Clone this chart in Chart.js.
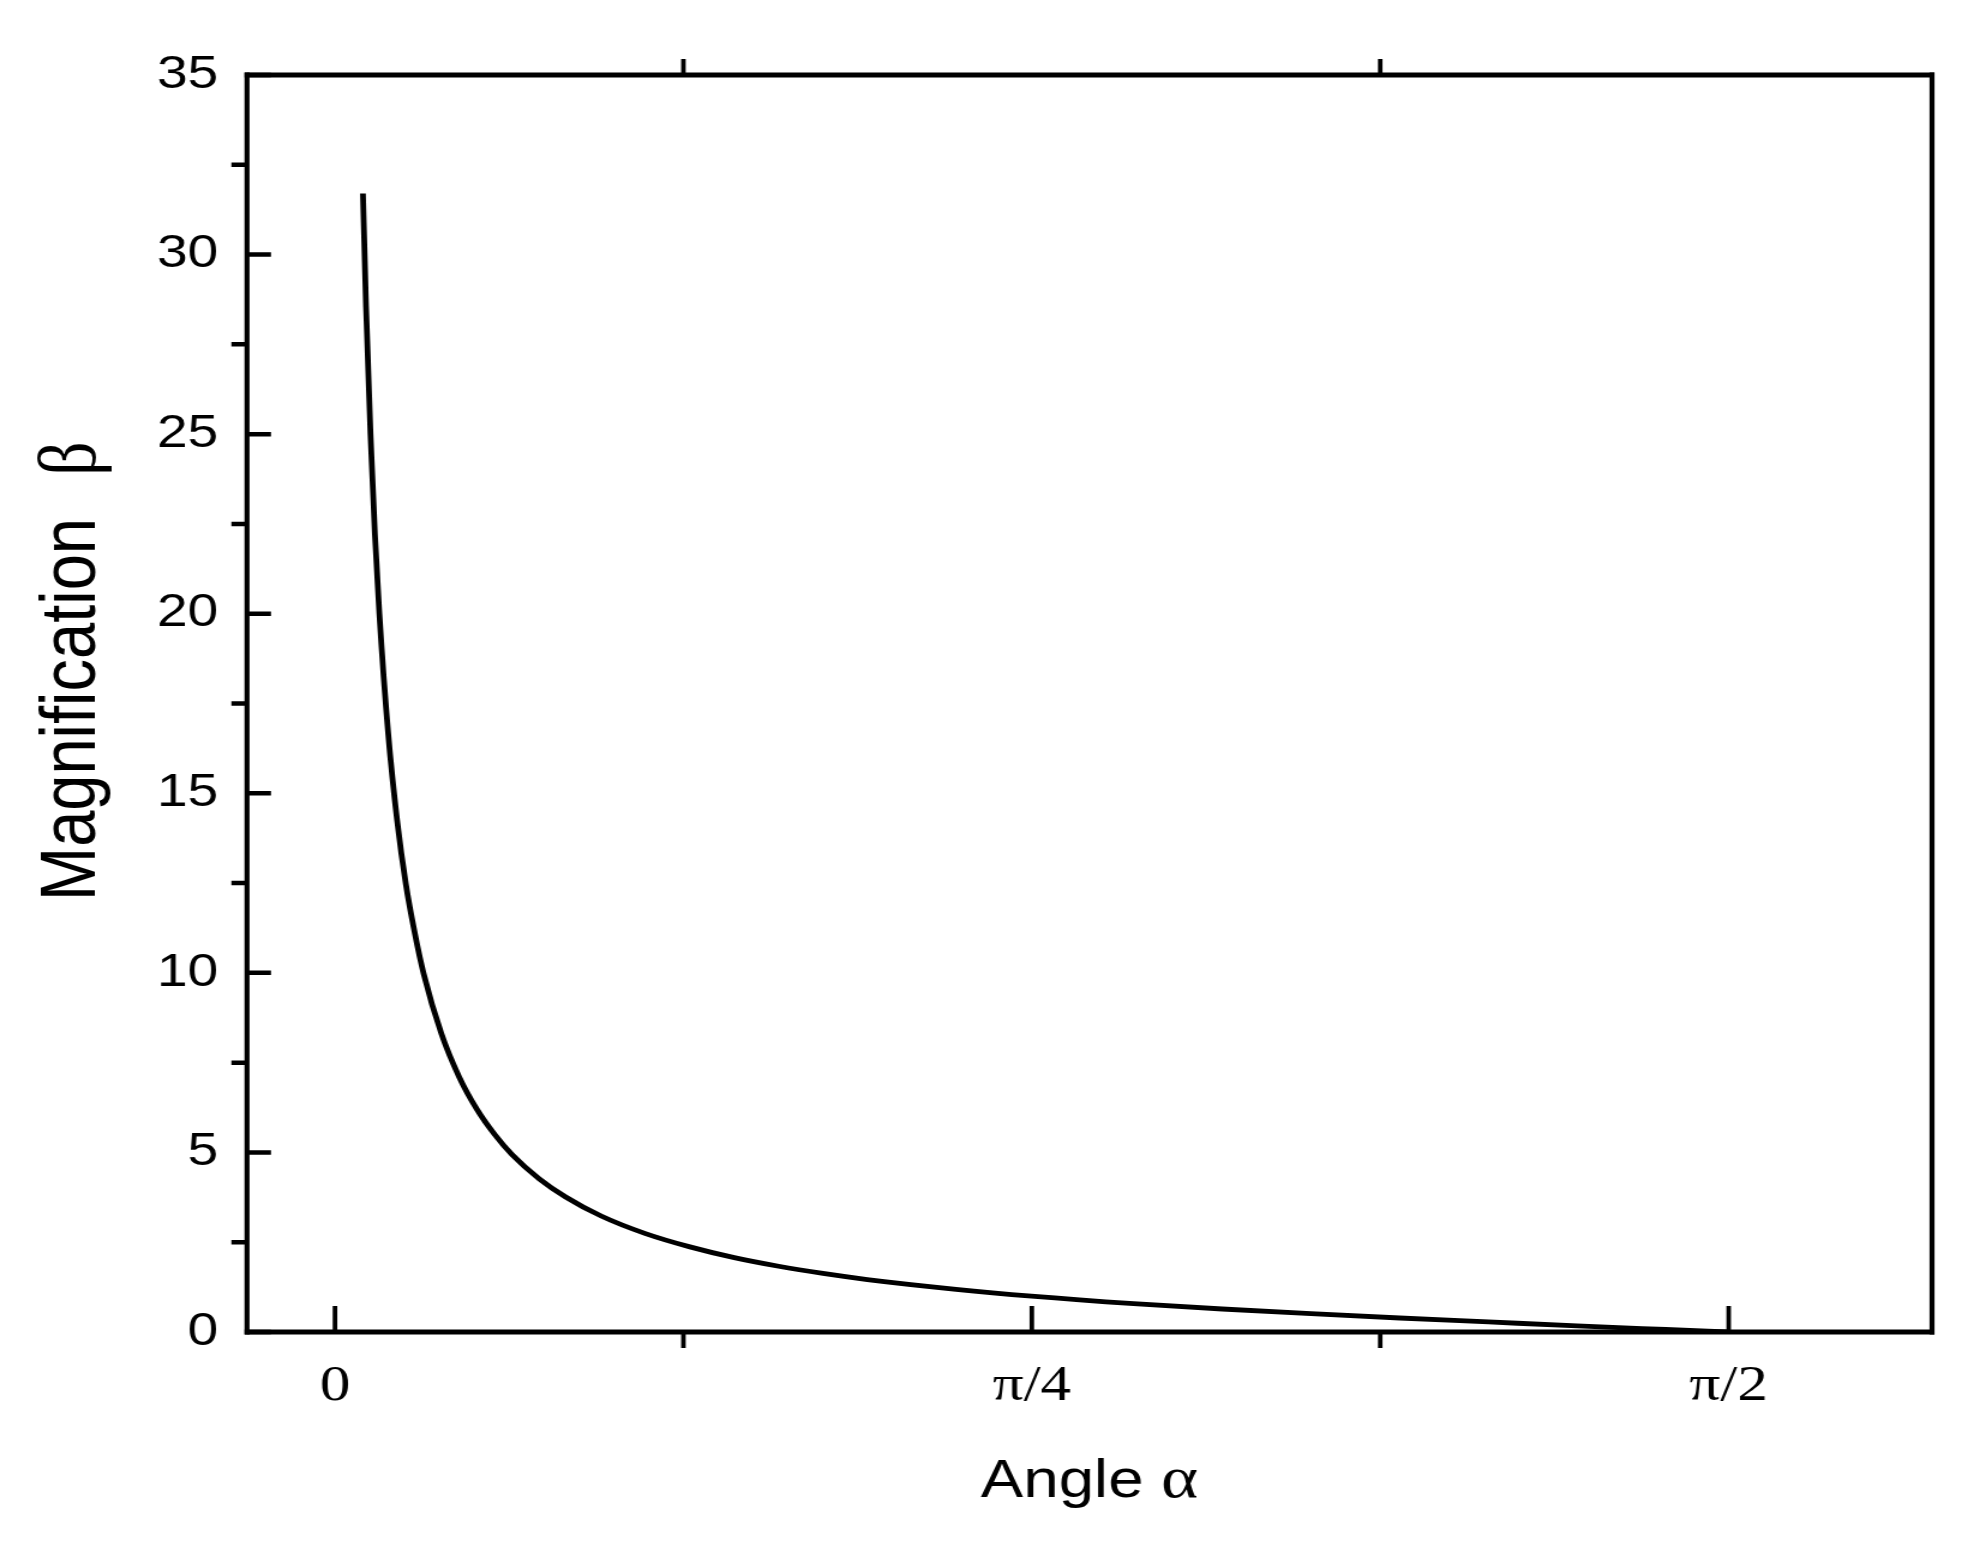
<!DOCTYPE html>
<html>
<head>
<meta charset="utf-8">
<script src="https://cdn.jsdelivr.net/npm/chart.js@4.4.1/dist/chart.umd.min.js"></script>
<style>
  html, body { margin: 0; padding: 0; background: #ffffff; overflow: hidden; }
  #wrap { width: 1983px; height: 1554px; overflow: hidden; }
  #c { display: block; width: 1653px; height: 1554px; transform: scaleX(1.2); transform-origin: 0 0; }
</style>
</head>
<body>
<div id="wrap"><canvas id="c" width="1653" height="1554"></canvas></div>
<script>
// ---- data ----
const alphaValues = [0.0315, 0.035, 0.04, 0.045, 0.05, 0.06, 0.07, 0.08, 0.09, 0.10,
                     0.12, 0.14, 0.16, 0.18, 0.20, 0.23, 0.26, 0.30, 0.35, 0.40,
                     0.45, 0.50, 0.55, 0.60, 0.70, 0.785, 0.90, 1.00, 1.10, 1.20,
                     1.30, 1.40, 1.50, 1.571];
const betaValues  = [31.7, 28.55, 25.0, 22.2, 20.0, 16.65, 14.25, 12.45, 11.1, 9.97,
                     8.3, 7.1, 6.2, 5.5, 4.93, 4.27, 3.76, 3.23, 2.74, 2.37,
                     2.07, 1.83, 1.63, 1.46, 1.19, 1.0, 0.79, 0.64, 0.51, 0.39,
                     0.28, 0.17, 0.07, 0.0];
const xTickValues = [0, 0.7854, 1.5708];
const xTickLabels = ['0', '\u03C0/4', '\u03C0/2'];
const xMinorTicks = [0.3927, 1.1781];
const yMajorTicks = [0, 5, 10, 15, 20, 25, 30, 35];
const yMinorTicks = [2.5, 7.5, 12.5, 17.5, 22.5, 27.5, 32.5];
const xTitle = 'Angle';
const xTitleSymbol = '\u03B1';
const yTitle = 'Magnification';
const yTitleSymbol = '\u03B2';

const points = alphaValues.map((a, i) => ({ x: a, y: betaValues[i] }));

const frameAndTicks = {
  id: 'frameAndTicks',
  afterDraw(chart) {
    const ctx = chart.ctx;
    const ca = chart.chartArea;
    const xs = chart.scales.x, ys = chart.scales.y;
    ctx.save();
    ctx.strokeStyle = '#000';
    ctx.lineCap = 'butt';
    // horizontal frame lines
    ctx.lineWidth = 5;
    ctx.beginPath();
    ctx.moveTo(ca.left - 2, ca.top); ctx.lineTo(ca.right + 2, ca.top);
    ctx.moveTo(ca.left - 2, ca.bottom); ctx.lineTo(ca.right + 2, ca.bottom);
    ctx.stroke();
    // vertical frame lines (canvas is stretched 1.2x horizontally)
    ctx.lineWidth = 4.2;
    ctx.beginPath();
    ctx.moveTo(ca.left, ca.top - 2.5); ctx.lineTo(ca.left, ca.bottom + 2.5);
    ctx.moveTo(ca.right, ca.top - 2.5); ctx.lineTo(ca.right, ca.bottom + 2.5);
    ctx.stroke();
    // x major ticks (inward, bottom)
    ctx.lineWidth = 3.8;
    ctx.beginPath();
    xTickValues.forEach(v => {
      const px = xs.getPixelForValue(v);
      ctx.moveTo(px, ca.bottom); ctx.lineTo(px, ca.bottom - 26);
    });
    // x minor ticks (outward, bottom and top)
    xMinorTicks.forEach(v => {
      const px = xs.getPixelForValue(v);
      ctx.moveTo(px, ca.bottom); ctx.lineTo(px, ca.bottom + 16);
      ctx.moveTo(px, ca.top); ctx.lineTo(px, ca.top - 16);
    });
    ctx.stroke();
    // y ticks
    ctx.lineWidth = 4.5;
    ctx.beginPath();
    yMajorTicks.forEach(v => {
      const py = ys.getPixelForValue(v);
      ctx.moveTo(ca.left, py); ctx.lineTo(ca.left + 20, py);
    });
    yMinorTicks.forEach(v => {
      const py = ys.getPixelForValue(v);
      ctx.moveTo(ca.left, py); ctx.lineTo(ca.left - 13, py);
    });
    ctx.stroke();

    // axis titles
    ctx.fillStyle = '#000';
    ctx.textBaseline = 'alphabetic';
    // x title
    const sansX = '53px "Liberation Sans", Arial, sans-serif';
    const serifX = '59px "Liberation Serif", "Times New Roman", serif';
    ctx.font = sansX;
    const w1 = ctx.measureText(xTitle + ' ').width;
    ctx.font = serifX;
    const w2 = ctx.measureText(xTitleSymbol).width;
    const cx = (ca.left + ca.right) / 2;
    let sx = cx - (w1 + w2) / 2;
    ctx.textAlign = 'left';
    ctx.font = sansX;
    ctx.fillText(xTitle + ' ', sx, 1497);
    ctx.font = serifX;
    ctx.fillText(xTitleSymbol, sx + w1, 1497);
    // y title (rotated)
    ctx.save();
    ctx.translate(79, 901);
    ctx.rotate(-Math.PI / 2);
    ctx.font = '65px "Liberation Sans", Arial, sans-serif';
    ctx.textAlign = 'left';
    const w3 = ctx.measureText(yTitle).width;
    ctx.fillText(yTitle, 0, 0);
    ctx.font = '68px "Liberation Serif", "Times New Roman", serif';
    ctx.fillText(yTitleSymbol, w3 + 42, 0);
    ctx.restore();
    ctx.restore();
  }
};

new Chart(document.getElementById('c'), {
  type: 'line',
  data: {
    datasets: [{
      data: points,
      borderColor: '#000',
      borderWidth: 4.8,
      pointRadius: 0,
      fill: false,
      cubicInterpolationMode: 'monotone'
    }]
  },
  options: {
    responsive: false,
    animation: false,
    devicePixelRatio: 1,
    layout: { padding: { top: 75, right: 43, left: 0, bottom: 0 } },
    plugins: { legend: { display: false }, tooltip: { enabled: false }, title: { display: false } },
    scales: {
      x: {
        type: 'linear',
        min: -0.0992,
        max: 1.8,
        grid: { display: false, drawTicks: false },
        border: { display: false },
        afterBuildTicks: (s) => { s.ticks = xTickValues.map(v => ({ value: v })); },
        afterFit: (s) => { s.height = 222; },
        ticks: {
          autoSkip: false,
          maxRotation: 0,
          padding: 24,
          color: '#000',
          font: { family: '"Liberation Serif", "Times New Roman", serif', size: 51 },
          callback: (v, i) => xTickLabels[i]
        },
        title: { display: false }
      },
      y: {
        type: 'linear',
        min: 0,
        max: 35,
        grid: { display: false, drawTicks: false },
        border: { display: false },
        afterFit: (s) => { s.width = 205.8; },
        ticks: {
          stepSize: 5,
          padding: 24,
          color: '#000',
          font: { family: '"Liberation Sans", Arial, sans-serif', size: 46 }
        },
        title: { display: false }
      }
    }
  },
  plugins: [frameAndTicks]
});
</script>
</body>
</html>
